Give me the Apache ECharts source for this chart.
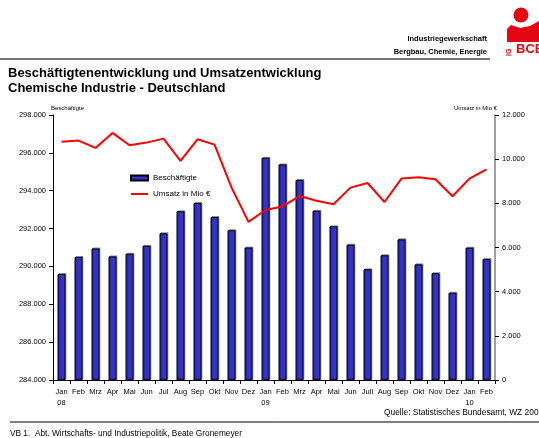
<!DOCTYPE html>
<html>
<head>
<meta charset="utf-8">
<script src="https://cdn.jsdelivr.net/npm/echarts@6/dist/echarts.min.js"></script>
<style>
  html, body { margin: 0; padding: 0; background: #fff; }
  #chart { width: 539px; height: 438px; }
</style>
</head>
<body>
<div id="chart"></div>
<script>
// Monate Jan 2008 - Feb 2010
const monate = [
  'Jan\n08', 'Feb', 'Mrz', 'Apr', 'Mai', 'Jun', 'Jul', 'Aug', 'Sep', 'Okt', 'Nov', 'Dez',
  'Jan\n09', 'Feb', 'Mrz', 'Apr', 'Mai', 'Jun', 'Juli', 'Aug', 'Sep', 'Okt', 'Nov', 'Dez',
  'Jan\n10', 'Feb'
]

// Beschaeftigte (linke Achse)
const beschaeftigte = [
  289600, 290500, 290950, 290530, 290670, 291090, 291750, 292910, 293350, 292610, 291910, 291000,
  295740, 295390, 294570, 292940, 292120, 291150, 289850, 290590, 291430, 290110, 289640, 288610,
  290990, 290390
]

// Umsatz in Mio Euro (rechte Achse)
const umsatz = [
  10790, 10840, 10510, 11190, 10630, 10750, 10930, 9920, 10900, 10660, 8720, 7160,
  7700, 7860, 8330, 8120, 7960, 8710, 8920, 8060, 9120, 9180, 9090, 8320,
  9120, 9540
]

const FONT = '"Liberation Sans", Arial, sans-serif'
const ROT = '#e30613'

// Tausenderpunkt
function fmt(v) {
  return v.toString().replace(/\B(?=(\d{3})+(?!\d))/g, '.')
}

const chart = echarts.init(document.getElementById('chart'))

let option = {
  animation: false,
  textStyle: { fontFamily: FONT },
  grid: { left: 53, right: 44, top: 115, bottom: 58 },
  legend: {
    left: 125,
    top: 169,
    orient: 'vertical',
    itemGap: 8,
    itemWidth: 17,
    itemHeight: 5,
    textStyle: { fontSize: 8, color: '#000', fontFamily: FONT },
    data: [
      { name: 'Beschäftigte', icon: 'rect' },
      { name: 'Umsatz in Mio €', itemStyle: { opacity: 0 } }
    ]
  },
  xAxis: {
    type: 'category',
    data: monate,
    axisLine: { lineStyle: { color: '#000', width: 1 } },
    axisTick: { show: true, length: 4, lineStyle: { color: '#000' } },
    axisLabel: { fontSize: 7.5, color: '#000', lineHeight: 11, margin: 6, interval: 0 }
  },
  yAxis: [
    {
      type: 'value',
      min: 284000,
      max: 298000,
      interval: 2000,
      name: 'Beschäftigte',
      nameGap: 1,
      nameTextStyle: { fontSize: 6, color: '#000', align: 'left', padding: [0, 0, 0, -2] },
      splitLine: { show: false },
      axisLine: { show: true, lineStyle: { color: '#000', width: 1 } },
      axisTick: { show: true, length: 4, lineStyle: { color: '#000' } },
      axisLabel: { fontSize: 7.5, color: '#000', margin: 7, formatter: fmt }
    },
    {
      type: 'value',
      min: 0,
      max: 12000,
      interval: 2000,
      name: 'Umsatz in Mio €',
      nameGap: 1,
      nameTextStyle: { fontSize: 6, color: '#000', align: 'right', padding: [0, -2, 0, 0] },
      splitLine: { show: false },
      axisLine: { show: true, lineStyle: { color: '#808080', width: 1.5 } },
      axisTick: { show: true, length: 4, lineStyle: { color: '#000' } },
      axisLabel: { fontSize: 7.5, color: '#000', margin: 7, formatter: fmt }
    }
  ],
  series: [
    {
      name: 'Beschäftigte',
      type: 'bar',
      yAxisIndex: 0,
      data: beschaeftigte,
      barWidth: 8,
      itemStyle: {
        color: '#3333cc',
        borderColor: '#000',
        borderWidth: 1,
        shadowColor: 'rgba(0,0,0,0.35)',
        shadowOffsetX: 1,
        shadowOffsetY: -1
      }
    },
    {
      name: 'Umsatz in Mio €',
      type: 'line',
      yAxisIndex: 1,
      data: umsatz,
      symbol: 'none',
      smooth: false,
      lineStyle: { color: '#ff0000', width: 2 },
      itemStyle: { color: '#ff0000' }
    }
  ],
  graphic: [
    // Kopfzeile
    {
      type: 'text', right: 52, top: 35,
      style: { text: 'Industriegewerkschaft', font: 'bold 7.5px ' + FONT, fill: '#000' }
    },
    {
      type: 'text', right: 52, top: 48,
      style: { text: 'Bergbau, Chemie, Energie', font: 'bold 7.5px ' + FONT, fill: '#000' }
    },
    {
      type: 'line',
      shape: { x1: 0, y1: 59, x2: 490, y2: 59 },
      style: { stroke: '#444', lineWidth: 1.5 }
    },
    // Logo
    {
      type: 'circle',
      shape: { cx: 521, cy: 15, r: 7.5 },
      style: { fill: ROT }
    },
    {
      type: 'polygon',
      shape: { points: [[507, 42], [507, 29], [511, 25], [520, 28], [530, 26], [539, 21], [539, 42]] },
      style: { fill: ROT }
    },
    {
      type: 'text', x: 506, y: 56, rotation: Math.PI / 2,
      style: { text: 'IG', font: 'bold 7px ' + FONT, fill: ROT }
    },
    {
      type: 'text', x: 516, y: 43,
      style: { text: 'BCE', font: 'bold 13px ' + FONT, fill: ROT }
    },
    // Titel
    {
      type: 'text', left: 8, top: 66,
      style: {
        text: 'Beschäftigtenentwicklung und Umsatzentwicklung\nChemische Industrie - Deutschland',
        font: 'bold 13px ' + FONT, lineHeight: 15, fill: '#000'
      }
    },
    // Quelle und Fusszeile
    {
      type: 'text', left: 384, top: 409,
      style: { text: 'Quelle: Statistisches Bundesamt, WZ 2003', font: '8.4px ' + FONT, fill: '#000' }
    },
    {
      type: 'line',
      shape: { x1: 10, y1: 422, x2: 539, y2: 422 },
      style: { stroke: '#000', lineWidth: 1 }
    },
    {
      type: 'text', left: 10, top: 430,
      style: { text: 'VB 1.  Abt. Wirtschafts- und Industriepolitik, Beate Gronemeyer', font: '8.3px ' + FONT, fill: '#000' }
    }
  ]
}

chart.setOption(option)
</script>
</body>
</html>
